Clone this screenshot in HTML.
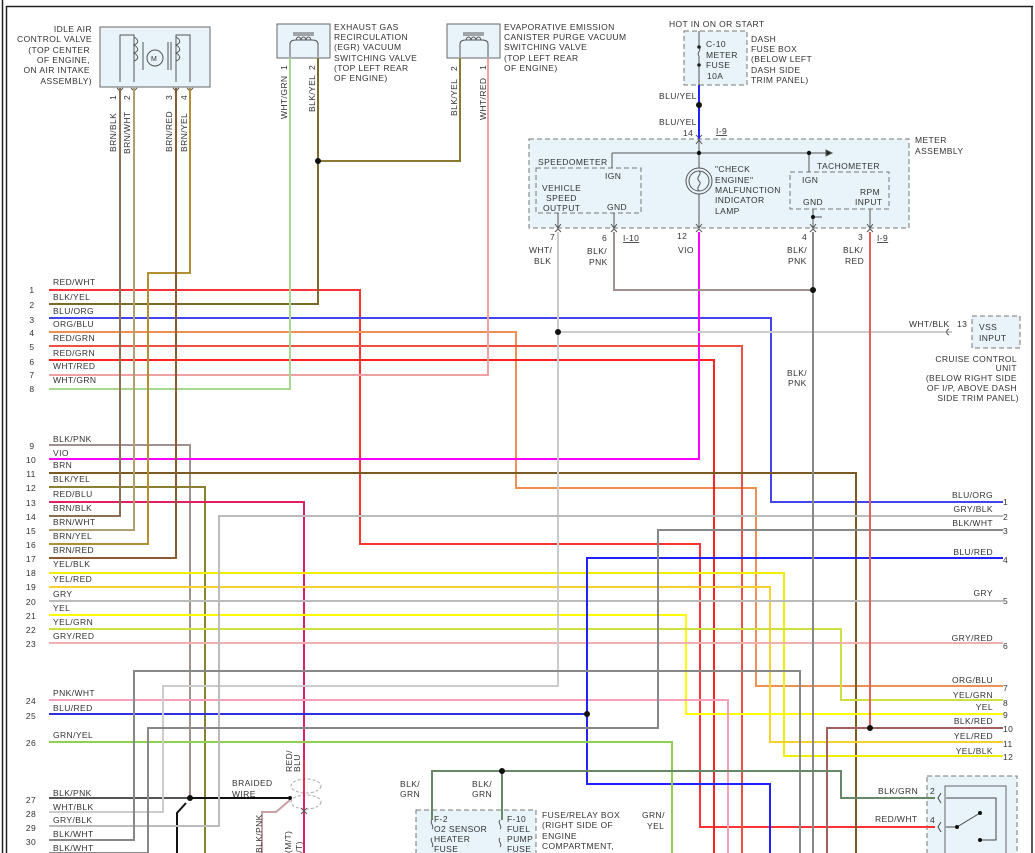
<!DOCTYPE html>
<html><head><meta charset="utf-8"><style>
html,body{margin:0;padding:0;background:#fff}
svg{display:block}
text{font-family:"Liberation Sans",sans-serif;font-size:8.5px;fill:#333;letter-spacing:0.4px}
.b{font-weight:bold;fill:#222}
</style></head><body>
<svg width="1035" height="853" viewBox="0 0 1035 853" xmlns="http://www.w3.org/2000/svg">
<!-- frame -->
<g stroke="#222" fill="none">
<line x1="2.5" y1="0" x2="2.5" y2="853" stroke-width="1.5"/>
<line x1="6.5" y1="6" x2="6.5" y2="853" stroke-width="1.5"/>
<line x1="6" y1="6.5" x2="1033" y2="6.5" stroke-width="1.5"/>
<line x1="1032" y1="6" x2="1032" y2="853" stroke-width="1.5"/>
</g>

<!-- components -->
<rect x="100" y="27" width="110" height="60" fill="#e8f4fa" stroke="#666"/>
<g stroke="#555" fill="none" stroke-width="1">
<polyline points="134,82 134,35 120,35 120,82"/>
<path d="M134,37 c5,3 5,6 0,8 c5,3 5,6 0,8 c5,3 5,6 0,8"/>
<line x1="143" y1="42" x2="143" y2="70"/>
<circle cx="155" cy="58" r="8"/>
<line x1="168" y1="42" x2="168" y2="70"/><line x1="171" y1="42" x2="171" y2="70"/>
<polyline points="176,82 176,35 190,35 190,82"/>
<path d="M176,37 c5,3 5,6 0,8 c5,3 5,6 0,8 c5,3 5,6 0,8"/>
</g>
<text x="151" y="61" style="font-size:7px">M</text>
<g fill="none" stroke="#555"><path d="M117,88 l3,3 3,-3 M131,88 l3,3 3,-3 M173,88 l3,3 3,-3 M187,88 l3,3 3,-3"/></g>

<rect x="277" y="24" width="53" height="34" fill="#e8f4fa" stroke="#666"/>
<rect x="447" y="24" width="53" height="34" fill="#e8f4fa" stroke="#666"/>
<g stroke="#555" fill="none">
<path d="M290,57 V44 Q290,40 296,40 H312 Q318,40 318,44 V57 M293,33 H314 M293,35 H314 M296,40 c1,-4 4,-4 5,0 c1,-4 4,-4 5,0 c1,-4 4,-4 5,0"/>
<path d="M460,57 V44 Q460,40 466,40 H482 Q488,40 488,44 V57 M463,33 H484 M463,35 H484 M466,40 c1,-4 4,-4 5,0 c1,-4 4,-4 5,0 c1,-4 4,-4 5,0"/>
</g>

<rect x="684" y="31" width="63" height="54" fill="#e8f4fa" stroke="#777" stroke-dasharray="5,3"/>
<g stroke="#555" fill="none"><line x1="699" y1="31" x2="699" y2="47"/><path d="M699,47 c3,3 -3,6 0,9"/><line x1="699" y1="56" x2="699" y2="85"/></g>
<circle cx="699" cy="47" r="1.8" fill="#222"/><circle cx="699" cy="65" r="1.8" fill="#222"/>

<rect x="529" y="139" width="380" height="89" fill="#e8f4fa" stroke="#777" stroke-dasharray="5,3"/>
<rect x="536" y="168" width="105" height="45" fill="none" stroke="#777" stroke-dasharray="5,3"/>
<rect x="790" y="172" width="99" height="37" fill="none" stroke="#777" stroke-dasharray="5,3"/>
<g stroke="#555" fill="none">
<line x1="612" y1="153" x2="826" y2="153"/><path d="M826,150 l6,3 -6,3z" fill="#222"/>
<line x1="612" y1="153" x2="612" y2="168"/><line x1="809" y1="153" x2="809" y2="172"/>
<line x1="699" y1="139" x2="699" y2="168"/><line x1="699" y1="194" x2="699" y2="228"/>
<circle cx="699" cy="181" r="13"/><circle cx="699" cy="181" r="10"/>
<path d="M699,171 c4,3 -4,6 0,10 c4,3 -4,6 0,10"/>
<line x1="558" y1="213" x2="558" y2="228"/><line x1="614" y1="213" x2="614" y2="228"/>
<line x1="813" y1="209" x2="813" y2="228"/><line x1="813" y1="217" x2="822" y2="217"/>
<line x1="870" y1="209" x2="870" y2="228"/>
<path d="M555,224 l3,4 3,-4 M611,224 l3,4 3,-4 M696,224 l3,4 3,-4 M810,224 l3,4 3,-4 M867,224 l3,4 3,-4 M696,144 l3,-4 3,4"/>
<path d="M555,232 l3,-3 3,3 M611,232 l3,-3 3,3 M696,232 l3,-3 3,3 M810,232 l3,-3 3,3 M867,232 l3,-3 3,3 M696,135 l3,3 3,-3"/>
</g>
<g fill="#111"><circle cx="699" cy="153" r="2.2"/><circle cx="809" cy="153" r="2.2"/><circle cx="813" cy="217" r="2"/></g>

<rect x="972" y="316" width="48" height="32" fill="#e8f4fa" stroke="#777" stroke-dasharray="5,3"/>
<rect x="416" y="810" width="120" height="50" fill="#e8f4fa" stroke="#777" stroke-dasharray="5,3"/>
<rect x="927" y="776" width="90" height="85" fill="#e8f4fa" stroke="#777" stroke-dasharray="5,3"/>
<rect x="945" y="786" width="61" height="75" fill="none" stroke="#666"/>
<g stroke="#444" fill="none"><polyline points="946,798 996,798 996,840 980,840"/><line x1="946" y1="827" x2="957" y2="827"/><line x1="957" y1="827" x2="980" y2="813"/>
<path d="M941,793 l-3,5 3,5 M941,822 l-3,5 3,5"/></g>
<g fill="#111"><circle cx="957" cy="827" r="2"/><circle cx="980" cy="813" r="2"/><circle cx="980" cy="840" r="2"/></g>
<g stroke="#555" fill="none"><path d="M432,820 c-3,3 3,6 0,9 M432,838 c-3,3 3,6 0,9 M500,820 c-3,3 3,6 0,9 M500,838 c-3,3 3,6 0,9"/></g>

<!-- braided shield -->
<g stroke="#aaa" fill="none" stroke-dasharray="3,2"><ellipse cx="306" cy="786" rx="15" ry="7"/><ellipse cx="306" cy="802" rx="15" ry="7"/></g>

<!-- wires -->
<g fill="none" stroke-width="2">
<polyline stroke="#f33" points="49,290 360,290 360,544 700,544 700,827 935,827"/>
<polyline stroke="#7a6a28" points="49,304 318,304 318,58"/>
<polyline stroke="#8a7a30" points="318,161 460,161 460,58"/>
<polyline stroke="#4444ee" points="49,318 771,318 771,502 1003,502"/>
<polyline stroke="#f09050" points="49,332 516,332 516,488 756,488 756,686 1003,686"/>
<polyline stroke="#f05040" points="49,346 742,346 742,853"/>
<polyline stroke="#f22" points="49,360 714,360 714,853"/>
<polyline stroke="#f0a0a0" points="49,375 488,375 488,58"/>
<polyline stroke="#a8d890" points="49,389 290,389 290,58"/>
<polyline stroke="#a09090" points="49,445 190,445 190,798"/>
<polyline stroke="#f0f" points="49,459 699,459 699,232"/>
<polyline stroke="#7a5a20" points="49,473 856,473 856,853"/>
<polyline stroke="#8a8030" points="49,487 205,487 205,853"/>
<polyline stroke="#e02060" points="49,502 304,502 304,853"/>
<polyline stroke="#8a7050" points="49,516 120,516 120,88"/>
<polyline stroke="#b0a070" points="49,530 134,530 134,88"/>
<polyline stroke="#b09030" points="49,544 148,544 148,273 190,273 190,88"/>
<polyline stroke="#8a5a30" points="49,558 176,558 176,88"/>
<polyline stroke="#ee0" points="49,573 784,573 784,756 1003,756"/>
<polyline stroke="#f5d030" points="49,587 770,587 770,742 1003,742"/>
<polyline stroke="#bbb" points="49,601 1003,601"/>
<polyline stroke="#ff0" points="49,615 686,615 686,714 1003,714"/>
<polyline stroke="#d0e040" points="49,629 841,629 841,700 1003,700"/>
<polyline stroke="#f0b0b0" points="49,643 1003,643"/>
<polyline stroke="#f5a0b8" points="49,700 728,700 728,853"/>
<polyline stroke="#3030e0" points="49,714 587,714"/>
<polyline stroke="#22f" points="1003,558 587,558 587,784 770,784 770,853"/>
<polyline stroke="#90d050" points="49,742 672,742 672,853"/>
<polyline stroke="#555" points="49,798 190,798"/>
<polyline stroke="#111" points="190,798 290,798"/>
<polyline stroke="#111" points="186,803 177,813 177,853"/>
<polyline stroke="#c8a0a8" points="290,800 276,812 262,812 262,853"/>
<polyline stroke="#ccc" points="49,812 163,812 163,686 558,686 558,232"/>
<polyline stroke="#ccc" points="558,332 952,332"/>
<polyline stroke="#bbb" points="49,826 219,826 219,516 1003,516"/>
<polyline stroke="#888" points="49,840 134,840 134,671 800,671 800,853"/>
<polyline stroke="#888" points="49,853 148,853 148,728 658,728 658,530 1003,530"/>
<polyline stroke="#a09090" points="614,232 614,290 813,290"/>
<polyline stroke="#888" points="813,232 813,853"/>
<polyline stroke="#e06060" points="870,232 870,728"/>
<polyline stroke="#a06060" points="827,853 827,728 1003,728"/>
<polyline stroke="#686" points="432,820 432,771 841,771 841,798 935,798"/>
<polyline stroke="#686" points="502,771 502,820"/>
<polyline stroke="#22f" points="699,85 699,139"/>
<polyline stroke="#e03050" points="304,790 304,760"/>
</g>
<g fill="#111">
<circle cx="318" cy="161" r="3"/><circle cx="699" cy="105" r="3"/><circle cx="558" cy="332" r="3"/>
<circle cx="813" cy="290" r="3"/><circle cx="870" cy="728" r="3"/><circle cx="587" cy="714" r="3"/>
<circle cx="190" cy="798" r="3"/><circle cx="290" cy="798" r="2"/><circle cx="502" cy="771" r="3"/>
</g>
<g stroke="#555" fill="none"><path d="M949,329 c-3,1 -3,5 0,6"/><path d="M301,808 l3,3 3,-3 M301,814 l3,-3 3,3"/></g>

<!-- component text -->
<g text-anchor="end">
<text x="92" y="32">IDLE AIR</text><text x="92" y="42">CONTROL VALVE</text><text x="90" y="53">(TOP CENTER</text><text x="90" y="63">OF ENGINE,</text><text x="90" y="73">ON AIR INTAKE</text><text x="92" y="84">ASSEMBLY)</text>
</g>
<text x="334" y="30">EXHAUST GAS</text><text x="334" y="40">RECIRCULATION</text><text x="334" y="50">(EGR) VACUUM</text><text x="334" y="61">SWITCHING VALVE</text><text x="334" y="71">(TOP LEFT REAR</text><text x="334" y="81">OF ENGINE)</text>
<text x="504" y="30">EVAPORATIVE EMISSION</text><text x="504" y="40">CANISTER PURGE VACUUM</text><text x="504" y="50">SWITCHING VALVE</text><text x="504" y="61">(TOP LEFT REAR</text><text x="504" y="71">OF ENGINE)</text>
<text x="669" y="27">HOT IN ON OR START</text>
<text x="706" y="47">C-10</text><text x="706" y="58">METER</text><text x="706" y="68">FUSE</text><text x="707" y="79">10A</text>
<text x="751" y="42">DASH</text><text x="751" y="52">FUSE BOX</text><text x="751" y="62">(BELOW LEFT</text><text x="751" y="73">DASH SIDE</text><text x="751" y="83">TRIM PANEL)</text>
<text x="659" y="99">BLU/YEL</text><text x="659" y="125">BLU/YEL</text>
<text x="683" y="136">14</text><text x="716" y="134" text-decoration="underline">I-9</text>
<text x="915" y="143">METER</text><text x="915" y="154">ASSEMBLY</text>
<text x="538" y="165">SPEEDOMETER</text><text x="605" y="179">IGN</text>
<text x="542" y="191">VEHICLE</text><text x="546" y="201">SPEED</text><text x="543" y="211">OUTPUT</text><text x="607" y="210">GND</text>
<text x="715" y="172">"CHECK</text><text x="715" y="183">ENGINE"</text><text x="715" y="193">MALFUNCTION</text><text x="715" y="203">INDICATOR</text><text x="715" y="214">LAMP</text>
<text x="817" y="169">TACHOMETER</text><text x="802" y="183">IGN</text><text x="803" y="205">GND</text><text x="860" y="195">RPM</text><text x="855" y="205">INPUT</text>
<text x="550" y="240">7</text><text x="602" y="241">6</text><text x="623" y="241" text-decoration="underline">I-10</text><text x="677" y="239">12</text><text x="802" y="240">4</text><text x="858" y="240">3</text><text x="877" y="241" text-decoration="underline">I-9</text>
<text x="529" y="253">WHT/</text><text x="534" y="264">BLK</text><text x="587" y="254">BLK/</text><text x="589" y="265">PNK</text><text x="678" y="253">VIO</text>
<text x="787" y="253">BLK/</text><text x="788" y="264">PNK</text><text x="843" y="253">BLK/</text><text x="845" y="264">RED</text>
<text x="787" y="376">BLK/</text><text x="788" y="386">PNK</text>
<text x="909" y="327">WHT/BLK</text><text x="957" y="327">13</text><text x="979" y="330">VSS</text><text x="979" y="341">INPUT</text>
<g text-anchor="end"><text x="1017" y="362">CRUISE CONTROL</text><text x="1017" y="371">UNIT</text><text x="1017" y="381">(BELOW RIGHT SIDE</text><text x="1017" y="391">OF I/P, ABOVE DASH</text><text x="1019" y="401">SIDE TRIM PANEL)</text></g>
<text x="232" y="786">BRAIDED</text><text x="232" y="797">WIRE</text>
<text x="400" y="787">BLK/</text><text x="400" y="797">GRN</text><text x="472" y="787">BLK/</text><text x="472" y="797">GRN</text>
<text x="434" y="822">F-2</text><text x="434" y="832">O2 SENSOR</text><text x="434" y="842">HEATER</text><text x="434" y="852">FUSE</text>
<text x="507" y="822">F-10</text><text x="507" y="832">FUEL</text><text x="507" y="842">PUMP</text><text x="507" y="852">FUSE</text>
<text x="542" y="818">FUSE/RELAY BOX</text><text x="542" y="828">(RIGHT SIDE OF</text><text x="542" y="839">ENGINE</text><text x="542" y="849">COMPARTMENT,</text>
<text x="642" y="818">GRN/</text><text x="647" y="829">YEL</text>
<text x="878" y="794">BLK/GRN</text><text x="930" y="794">2</text><text x="875" y="822">RED/WHT</text><text x="930" y="823">4</text>

<!-- vertical labels -->
<g>
<text transform="translate(116,152) rotate(-90)">BRN/BLK</text>
<text transform="translate(130,154) rotate(-90)">BRN/WHT</text>
<text transform="translate(172,152) rotate(-90)">BRN/RED</text>
<text transform="translate(187,152) rotate(-90)">BRN/YEL</text>
<text transform="translate(116,100) rotate(-90)">1</text><text transform="translate(130,100) rotate(-90)">2</text>
<text transform="translate(172,100) rotate(-90)">3</text><text transform="translate(187,100) rotate(-90)">4</text>
<text transform="translate(287,119) rotate(-90)">WHT/GRN</text>
<text transform="translate(315,112) rotate(-90)">BLK/YEL</text>
<text transform="translate(287,70) rotate(-90)">1</text><text transform="translate(315,70) rotate(-90)">2</text>
<text transform="translate(457,116) rotate(-90)">BLK/YEL</text>
<text transform="translate(486,120) rotate(-90)">WHT/RED</text>
<text transform="translate(457,71) rotate(-90)">2</text><text transform="translate(486,70) rotate(-90)">1</text>
<text transform="translate(292,772) rotate(-90)">RED/</text><text transform="translate(300,772) rotate(-90)">BLU</text>
<text transform="translate(262,853) rotate(-90)">BLK/PNK</text>
<text transform="translate(291,853) rotate(-90)">(M/T)</text>
<text transform="translate(302,862) rotate(-90)">(A/T)</text>
</g>

<!-- left connector labels -->
<g>
<text x="53" y="285">RED/WHT</text><text x="53" y="300">BLK/YEL</text><text x="53" y="314">BLU/ORG</text><text x="53" y="327">ORG/BLU</text>
<text x="53" y="341">RED/GRN</text><text x="53" y="356">RED/GRN</text><text x="53" y="369">WHT/RED</text><text x="53" y="383">WHT/GRN</text>
<text x="53" y="442">BLK/PNK</text><text x="53" y="456">VIO</text><text x="53" y="468">BRN</text><text x="53" y="482">BLK/YEL</text>
<text x="53" y="497">RED/BLU</text><text x="53" y="511">BRN/BLK</text><text x="53" y="525">BRN/WHT</text><text x="53" y="539">BRN/YEL</text>
<text x="53" y="553">BRN/RED</text><text x="53" y="567">YEL/BLK</text><text x="53" y="582">YEL/RED</text><text x="53" y="597">GRY</text>
<text x="53" y="611">YEL</text><text x="53" y="625">YEL/GRN</text><text x="53" y="639">GRY/RED</text>
<text x="53" y="696">PNK/WHT</text><text x="53" y="711">BLU/RED</text><text x="53" y="738">GRN/YEL</text>
<text x="53" y="796">BLK/PNK</text><text x="53" y="810">WHT/BLK</text><text x="53" y="823">GRY/BLK</text><text x="53" y="837">BLK/WHT</text><text x="53" y="851">BLK/WHT</text>
</g>
<g text-anchor="middle">
<text x="32" y="293">1</text><text x="32" y="308">2</text><text x="32" y="323">3</text><text x="32" y="336">4</text><text x="32" y="350">5</text><text x="32" y="365">6</text><text x="32" y="378">7</text><text x="32" y="392">8</text>
<text x="32" y="449">9</text><text x="31" y="463">10</text><text x="31" y="477">11</text><text x="31" y="491">12</text><text x="31" y="506">13</text><text x="31" y="520">14</text><text x="31" y="534">15</text><text x="31" y="548">16</text>
<text x="31" y="562">17</text><text x="31" y="576">18</text><text x="31" y="590">19</text><text x="31" y="605">20</text><text x="31" y="619">21</text><text x="31" y="633">22</text><text x="31" y="647">23</text>
<text x="31" y="704">24</text><text x="31" y="719">25</text><text x="31" y="746">26</text>
<text x="31" y="803">27</text><text x="31" y="817">28</text><text x="31" y="831">29</text><text x="31" y="845">30</text>
</g>
<!-- right connector labels -->
<g text-anchor="end">
<text x="993" y="498">BLU/ORG</text><text x="993" y="512">GRY/BLK</text><text x="993" y="526">BLK/WHT</text><text x="993" y="555">BLU/RED</text>
<text x="993" y="596">GRY</text><text x="993" y="641">GRY/RED</text><text x="993" y="683">ORG/BLU</text><text x="993" y="698">YEL/GRN</text>
<text x="993" y="710">YEL</text><text x="993" y="724">BLK/RED</text><text x="993" y="739">YEL/RED</text><text x="993" y="754">YEL/BLK</text>
</g>
<g>
<text x="1003" y="505">1</text><text x="1003" y="520">2</text><text x="1003" y="534">3</text><text x="1003" y="563">4</text><text x="1003" y="604">5</text><text x="1003" y="649">6</text>
<text x="1003" y="691">7</text><text x="1003" y="706">8</text><text x="1003" y="718">9</text><text x="1003" y="732">10</text><text x="1003" y="747">11</text><text x="1003" y="760">12</text>
</g>
</svg>
</body></html>
